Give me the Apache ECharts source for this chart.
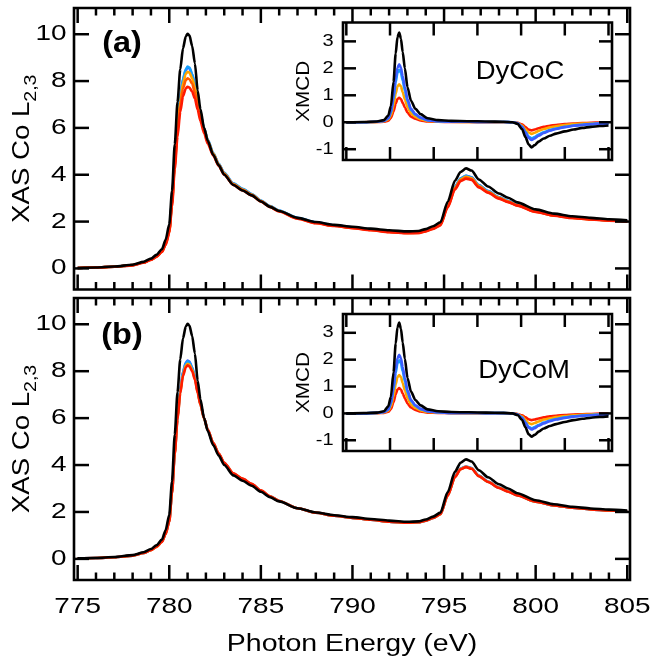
<!DOCTYPE html>
<html>
<head>
<meta charset="utf-8">
<script src="https://cdn.jsdelivr.net/npm/echarts@6/dist/echarts.min.js"></script>
<style>
  html, body { margin: 0; padding: 0; background: #fff; }
  #chart { width: 653px; height: 667px; }
</style>
</head>
<body>
<div id="chart"></div>
<script>
// Photon energy grid (eV) for the Co L2,3 absorption spectra
const energy = [775, 776, 777, 778, 778.6, 779, 779.3, 779.6, 779.8, 780,
  780.15, 780.3, 780.45, 780.6, 780.75, 780.9, 781, 781.1, 781.25, 781.4,
  781.55, 781.7, 781.9, 782.1, 782.4, 782.7, 783, 783.5, 784, 784.5,
  785, 785.5, 786, 787, 788, 789, 790, 791, 792, 793,
  793.6, 794, 794.4, 794.8, 795.2, 795.6, 795.9, 796.2, 796.5, 796.9,
  797.4, 798, 798.5, 799, 800, 801, 802, 803, 804, 805];

// (a) DyCoC — XAS
const xasA_black = [0.02,0.04,0.08,0.16,0.28, 0.42,0.58,0.82,1.22,1.88, 3.3,5.3,7.1,8.5,9.4, 9.9,10.02,9.95,9.5,8.75, 7.6,6.8,6.0,5.45,4.85, 4.4,4.0,3.56,3.33,3.12, 2.86,2.63,2.45,2.16,1.98, 1.86,1.78,1.7,1.63,1.58, 1.6,1.68,1.8,1.97,2.85, 3.75,4.12,4.27,4.18,3.8, 3.5,3.2,3.02,2.82,2.52, 2.34,2.23,2.16,2.1,2.06];
const xasA_blue = [0.02,0.04,0.07,0.14,0.25, 0.38,0.52,0.74,1.08,1.62, 2.85,4.58,6.12,7.3,8.06, 8.46,8.58,8.54,8.27,7.83, 7.18,6.58,5.97,5.48,4.92, 4.46,4.07,3.62,3.39,3.17, 2.89,2.65,2.46,2.15,1.96, 1.84,1.75,1.66,1.58,1.53, 1.55,1.62,1.73,1.9,2.7, 3.5,3.84,3.96,3.89,3.56, 3.3,3.04,2.88,2.72,2.45, 2.28,2.18,2.11,2.06,2.02];
const xasA_sky = [0.02,0.04,0.07,0.14,0.25, 0.38,0.52,0.74,1.08,1.62, 2.85,4.6,6.15,7.35,8.1, 8.5,8.62,8.58,8.3,7.85, 7.2,6.6,5.98,5.5,4.93, 4.47,4.08,3.63,3.4,3.18, 2.9,2.66,2.47,2.16,1.97, 1.84,1.75,1.67,1.59,1.53, 1.55,1.62,1.73,1.9,2.7, 3.5,3.84,3.95,3.88,3.55, 3.3,3.04,2.88,2.72,2.45, 2.28,2.18,2.11,2.06,2.02];
const xasA_orange = [0.02,0.04,0.07,0.14,0.25, 0.37,0.5,0.72,1.05,1.58, 2.8,4.5,6.0,7.15,7.9, 8.3,8.4,8.36,8.12,7.72, 7.12,6.55,5.95,5.46,4.9, 4.44,4.05,3.6,3.37,3.15, 2.88,2.64,2.45,2.14,1.95, 1.83,1.74,1.65,1.57,1.52, 1.53,1.6,1.71,1.88,2.66, 3.45,3.8,3.91,3.85,3.52, 3.27,3.02,2.86,2.7,2.43, 2.27,2.17,2.1,2.05,2.01];
const xasA_orangered = [0.02,0.04,0.07,0.14,0.25, 0.37,0.5,0.71,1.03,1.55, 2.75,4.4,5.85,6.95,7.68, 8.03,8.12,8.08,7.88,7.52, 6.98,6.45,5.88,5.4,4.86, 4.41,4.02,3.58,3.35,3.13, 2.87,2.63,2.44,2.13,1.94, 1.82,1.73,1.64,1.56,1.51, 1.52,1.59,1.7,1.86,2.63, 3.42,3.76,3.87,3.81,3.49, 3.25,3.0,2.84,2.69,2.42, 2.26,2.16,2.09,2.05,2.01];
const xasA_red = [0.02,0.04,0.07,0.13,0.24, 0.36,0.49,0.7,1.0,1.5, 2.65,4.25,5.62,6.68,7.35, 7.68,7.76,7.72,7.55,7.25, 6.78,6.3,5.78,5.33,4.82, 4.38,4.0,3.56,3.33,3.12, 2.86,2.62,2.43,2.12,1.93, 1.81,1.72,1.63,1.55,1.5, 1.51,1.58,1.69,1.84,2.6, 3.38,3.72,3.83,3.78,3.46, 3.23,2.98,2.83,2.68,2.41, 2.25,2.15,2.09,2.04,2.0];

// (b) DyCoM — XAS
const xasB_black = [0.02,0.04,0.08,0.16,0.28, 0.42,0.58,0.82,1.22,1.88, 3.3,5.3,7.1,8.5,9.4, 9.9,10.02,9.95,9.5,8.75, 7.6,6.8,6.0,5.45,4.85, 4.4,4.0,3.56,3.33,3.12, 2.86,2.63,2.45,2.16,1.98, 1.86,1.78,1.7,1.63,1.58, 1.6,1.68,1.8,1.97,2.85, 3.72,4.1,4.24,4.15,3.78, 3.48,3.18,3.0,2.8,2.5, 2.33,2.22,2.15,2.1,2.06];
const xasB_blue = [0.02,0.04,0.07,0.14,0.25, 0.38,0.52,0.74,1.08,1.62, 2.85,4.55,6.05,7.2,7.98, 8.36,8.45,8.41,8.16,7.75, 7.15,6.6,6.0,5.5,4.93, 4.47,4.08,3.63,3.4,3.18, 2.9,2.66,2.47,2.16,1.97, 1.84,1.75,1.67,1.59,1.54, 1.56,1.63,1.74,1.91,2.72, 3.52,3.85,3.94,3.87,3.55, 3.3,3.04,2.88,2.72,2.45, 2.28,2.18,2.11,2.06,2.02];
const xasB_sky = [0.02,0.04,0.07,0.14,0.25, 0.38,0.52,0.74,1.08,1.62, 2.84,4.53,6.02,7.17,7.95, 8.33,8.42,8.38,8.14,7.74, 7.14,6.6,6.0,5.5,4.93, 4.47,4.08,3.63,3.4,3.18, 2.9,2.66,2.47,2.16,1.97, 1.84,1.75,1.67,1.59,1.54, 1.56,1.63,1.74,1.91,2.71, 3.51,3.84,3.93,3.86,3.54, 3.29,3.03,2.87,2.71,2.44, 2.28,2.18,2.11,2.06,2.02];
const xasB_orange = [0.02,0.04,0.07,0.14,0.25, 0.37,0.51,0.73,1.06,1.6, 2.82,4.5,5.97,7.1,7.86, 8.23,8.32,8.28,8.06,7.68, 7.1,6.58,5.99,5.5,4.94, 4.48,4.09,3.64,3.41,3.19, 2.91,2.67,2.47,2.16,1.97, 1.84,1.75,1.67,1.59,1.54, 1.56,1.63,1.74,1.9,2.7, 3.5,3.83,3.92,3.85,3.53, 3.29,3.03,2.87,2.71,2.44, 2.28,2.18,2.11,2.06,2.02];
const xasB_red = [0.02,0.04,0.07,0.14,0.25, 0.37,0.51,0.72,1.05,1.58, 2.8,4.47,5.93,7.05,7.8, 8.16,8.25,8.21,8.0,7.64, 7.08,6.57,5.99,5.51,4.95, 4.49,4.1,3.65,3.42,3.2, 2.92,2.67,2.47,2.16,1.97, 1.84,1.75,1.67,1.59,1.54, 1.56,1.63,1.74,1.9,2.69, 3.49,3.82,3.91,3.84,3.52, 3.28,3.02,2.86,2.7,2.44, 2.28,2.18,2.11,2.06,2.02];

// Energy grid (eV) for the XMCD difference spectra shown in the insets
const energyXmcd = [775, 777, 778.5, 779.3, 779.8, 780.1, 780.4, 780.65, 780.85, 781.05,
  781.25, 781.45, 781.7, 782, 782.4, 782.9, 783.5, 784.3, 785.5, 787,
  789, 791, 793, 794, 794.6, 795.1, 795.5, 795.85, 796.2, 796.55,
  797, 797.6, 798.3, 799, 800, 801, 802, 803, 804, 805];

// DyCoC — XMCD
const xmcdA_black = [0.0,0.01,0.03,0.08,0.25, 0.6,1.5,2.55,3.15,3.33, 3.1,2.6,2.0,1.3,0.8, 0.5,0.3,0.15,0.08,0.05, 0.04,0.03,0.02,0.0,-0.06, -0.25,-0.55,-0.82,-0.93,-0.85, -0.72,-0.6,-0.5,-0.42,-0.34, -0.27,-0.21,-0.17,-0.14,-0.12];
const xmcdA_blue = [0.0,0.0,0.02,0.05,0.15, 0.38,0.95,1.62,2.02,2.15, 2.02,1.7,1.3,0.85,0.5, 0.3,0.17,0.08,0.04,0.02, 0.02,0.01,0.01,0.0,-0.04, -0.17,-0.38,-0.58,-0.66,-0.6, -0.5,-0.4,-0.31,-0.25,-0.18, -0.13,-0.1,-0.07,-0.05,-0.04];
const xmcdA_sky = [0.0,0.0,0.02,0.05,0.14, 0.35,0.87,1.48,1.84,1.95, 1.84,1.55,1.18,0.78,0.46, 0.28,0.16,0.08,0.04,0.02, 0.02,0.01,0.01,0.0,-0.04, -0.16,-0.35,-0.53,-0.6,-0.55, -0.46,-0.37,-0.29,-0.23,-0.17, -0.12,-0.09,-0.07,-0.05,-0.04];
const xmcdA_orange = [0.0,0.0,0.01,0.04,0.1, 0.25,0.62,1.07,1.33,1.41, 1.33,1.12,0.85,0.56,0.33, 0.2,0.11,0.05,0.03,0.02, 0.01,0.01,0.0,0.0,-0.03, -0.12,-0.26,-0.38,-0.43,-0.39, -0.32,-0.25,-0.19,-0.15,-0.1, -0.07,-0.05,-0.04,-0.03,-0.02];
const xmcdA_red = [0.0,0.0,0.01,0.02,0.06, 0.16,0.4,0.69,0.86,0.91, 0.86,0.72,0.55,0.36,0.21, 0.13,0.07,0.03,0.02,0.01, 0.01,0.0,0.0,0.0,-0.02, -0.08,-0.18,-0.27,-0.3,-0.27, -0.22,-0.17,-0.13,-0.1,-0.07, -0.05,-0.03,-0.02,-0.01,-0.01];

// DyCoM — XMCD
const xmcdB_black = [0.0,0.01,0.03,0.08,0.26, 0.62,1.53,2.6,3.2,3.38, 3.15,2.64,2.03,1.32,0.81, 0.5,0.3,0.15,0.08,0.05, 0.04,0.03,0.02,0.0,-0.06, -0.24,-0.52,-0.77,-0.87,-0.8, -0.68,-0.56,-0.47,-0.4,-0.32, -0.25,-0.2,-0.16,-0.13,-0.11];
const xmcdB_blue = [0.0,0.0,0.02,0.05,0.15, 0.39,0.96,1.64,2.05,2.18, 2.05,1.72,1.32,0.86,0.5, 0.3,0.17,0.08,0.04,0.02, 0.02,0.01,0.01,0.0,-0.04, -0.16,-0.35,-0.53,-0.6,-0.55, -0.46,-0.37,-0.29,-0.23,-0.17, -0.12,-0.09,-0.07,-0.05,-0.04];
const xmcdB_sky = [0.0,0.0,0.02,0.05,0.14, 0.36,0.88,1.51,1.87,1.98, 1.87,1.57,1.2,0.79,0.47, 0.28,0.16,0.08,0.04,0.02, 0.02,0.01,0.01,0.0,-0.04, -0.15,-0.33,-0.5,-0.56,-0.51, -0.43,-0.34,-0.27,-0.21,-0.15, -0.11,-0.08,-0.06,-0.05,-0.04];
const xmcdB_orange = [0.0,0.0,0.01,0.04,0.1, 0.25,0.63,1.08,1.35,1.43, 1.35,1.13,0.86,0.57,0.33, 0.2,0.11,0.05,0.03,0.02, 0.01,0.01,0.0,0.0,-0.03, -0.11,-0.24,-0.36,-0.4,-0.36, -0.3,-0.23,-0.18,-0.14,-0.1, -0.07,-0.05,-0.04,-0.03,-0.02];
const xmcdB_red = [0.0,0.0,0.01,0.02,0.06, 0.16,0.41,0.71,0.89,0.94, 0.89,0.74,0.56,0.37,0.22, 0.13,0.07,0.03,0.02,0.01, 0.01,0.0,0.0,0.0,-0.02, -0.07,-0.15,-0.22,-0.25,-0.23, -0.19,-0.15,-0.11,-0.09,-0.06, -0.04,-0.03,-0.02,-0.01,-0.01];

// Tick positions and labels
const xMajorTicks = [775, 780, 785, 790, 795, 800, 805];
const xMinorTicks = [776, 777, 778, 779, 781, 782, 783, 784, 786, 787, 788, 789,
  791, 792, 793, 794, 796, 797, 798, 799, 801, 802, 803, 804];
const yMainTicks = [0, 2, 4, 6, 8, 10];
const yInsetTicks = [-1, 0, 1, 2, 3];

const COLORS = { black: '#000000', blue: '#3d5cff', sky: '#14a0ff', orange: '#ffa500', orangered: '#ff5a00', red: '#ff1a00' };
const FONT = "'Liberation Sans', Arial, Helvetica, sans-serif";

// Axis extents (the frame sits slightly outside the outermost ticks)
const X_MIN = 774.8, X_MAX = 805.15;
const Y_MIN = -0.9, Y_MAX = 11.12;
const XI_MIN = 774.62, XI_MAX = 805.4;
const YI_MIN = -1.4, YI_MAX = 3.7;

function pairs(xs, ys) { return xs.map((x, i) => [x, ys[i]]); }

function hiddenAxis(grid, min, max) {
  return {
    type: 'value', gridIndex: grid, min: min, max: max,
    axisLine: { show: false }, axisTick: { show: false },
    axisLabel: { show: false }, splitLine: { show: false }
  };
}
function line(name, xi, yi, xs, ys, color, z) {
  return {
    name: name, type: 'line', xAxisIndex: xi, yAxisIndex: yi, data: pairs(xs, ys),
    showSymbol: false, smooth: 0.25, smoothMonotone: 'x', z: z,
    lineStyle: { color: color, width: 2.6 }, silent: true, animation: false
  };
}
const frame = { show: true, borderColor: '#000', borderWidth: 2.6 };

const option = {
  animation: false,
  backgroundColor: '#fff',
  grid: [
    Object.assign({ left: 74, top: 8, width: 556, height: 281.5, backgroundColor: 'transparent', z: 0 }, frame),
    Object.assign({ left: 74, top: 298, width: 556, height: 282, backgroundColor: 'transparent', z: 0 }, frame),
    Object.assign({ left: 343, top: 22.5, width: 269, height: 137.5, backgroundColor: '#fff', z: 3 }, frame),
    Object.assign({ left: 343, top: 314, width: 269, height: 137, backgroundColor: '#fff', z: 3 }, frame)
  ],
  xAxis: [
    hiddenAxis(0, X_MIN, X_MAX), hiddenAxis(1, X_MIN, X_MAX),
    hiddenAxis(2, XI_MIN, XI_MAX), hiddenAxis(3, XI_MIN, XI_MAX)
  ],
  yAxis: [
    hiddenAxis(0, Y_MIN, Y_MAX), hiddenAxis(1, Y_MIN, Y_MAX),
    hiddenAxis(2, YI_MIN, YI_MAX), hiddenAxis(3, YI_MIN, YI_MAX)
  ],
  series: [
    line('a-blue', 0, 0, energy, xasA_blue, COLORS.blue, 2),
    line('a-sky', 0, 0, energy, xasA_sky, COLORS.sky, 2),
    line('a-orange', 0, 0, energy, xasA_orange, COLORS.orange, 2),
    line('a-orangered', 0, 0, energy, xasA_orangered, COLORS.orangered, 2),
    line('a-red', 0, 0, energy, xasA_red, COLORS.red, 2),
    line('a-black', 0, 0, energy, xasA_black, COLORS.black, 2),
    line('b-blue', 1, 1, energy, xasB_blue, COLORS.blue, 2),
    line('b-sky', 1, 1, energy, xasB_sky, COLORS.sky, 2),
    line('b-orange', 1, 1, energy, xasB_orange, COLORS.orange, 2),
    line('b-red', 1, 1, energy, xasB_red, COLORS.red, 2),
    line('b-black', 1, 1, energy, xasB_black, COLORS.black, 2),
    line('ia-red', 2, 2, energyXmcd, xmcdA_red, COLORS.red, 5),
    line('ia-orange', 2, 2, energyXmcd, xmcdA_orange, COLORS.orange, 5),
    line('ia-sky', 2, 2, energyXmcd, xmcdA_sky, COLORS.sky, 5),
    line('ia-blue', 2, 2, energyXmcd, xmcdA_blue, COLORS.blue, 5),
    line('ia-black', 2, 2, energyXmcd, xmcdA_black, COLORS.black, 5),
    line('ib-red', 3, 3, energyXmcd, xmcdB_red, COLORS.red, 5),
    line('ib-orange', 3, 3, energyXmcd, xmcdB_orange, COLORS.orange, 5),
    line('ib-sky', 3, 3, energyXmcd, xmcdB_sky, COLORS.sky, 5),
    line('ib-blue', 3, 3, energyXmcd, xmcdB_blue, COLORS.blue, 5),
    line('ib-black', 3, 3, energyXmcd, xmcdB_black, COLORS.black, 5)
  ]
};

const chart = echarts.init(document.getElementById('chart'), null, { renderer: 'canvas' });
chart.setOption(option);

// ---- ticks, tick labels and titles, placed through each panel's own scales ----
const elements = [];
function toPx(idx, x, y) { return chart.convertToPixel({ xAxisIndex: idx, yAxisIndex: idx }, [x, y]); }
function tick(x1, y1, x2, y2, z) {
  elements.push({ type: 'line', silent: true, z: z,
    shape: { x1: x1, y1: y1, x2: x2, y2: y2 },
    style: { stroke: '#000', lineWidth: 2.5 } });
}
function text(str, x, y, o) {
  elements.push({ type: 'text', silent: true, z: 20, x: x, y: y,
    scaleX: o.sx || 1, rotation: o.rot || 0,
    style: { text: str, font: o.font, fill: '#000', rich: o.rich,
      align: o.align || 'center', verticalAlign: o.va || 'middle',
      textAlign: o.align || 'center', textVerticalAlign: o.va || 'middle' } });
}

const panels = [
  { idx: 0, x0: X_MIN, x1: X_MAX, y0: Y_MIN, y1: Y_MAX, yTicks: yMainTicks, minor: true,
    xLen: 15, minorLen: 7.5, yLen: 15, xLabels: false, yFont: '22px ' + FONT, ySx: 1.27, yGap: 7.5, z: 12 },
  { idx: 1, x0: X_MIN, x1: X_MAX, y0: Y_MIN, y1: Y_MAX, yTicks: yMainTicks, minor: true,
    xLen: 15, minorLen: 7.5, yLen: 15, xLabels: true, yFont: '22px ' + FONT, ySx: 1.27, yGap: 7.5, z: 12 },
  { idx: 2, x0: XI_MIN, x1: XI_MAX, y0: YI_MIN, y1: YI_MAX, yTicks: yInsetTicks, minor: false,
    xLen: 13, minorLen: 0, yLen: 13, xLabels: false, yFont: '16px ' + FONT, ySx: 1.25, yGap: 9.5, z: 14 },
  { idx: 3, x0: XI_MIN, x1: XI_MAX, y0: YI_MIN, y1: YI_MAX, yTicks: yInsetTicks, minor: false,
    xLen: 13, minorLen: 0, yLen: 13, xLabels: false, yFont: '16px ' + FONT, ySx: 1.25, yGap: 9.5, z: 14 }
];

panels.forEach(function (p) {
  const left = toPx(p.idx, p.x0, 0)[0];
  const right = toPx(p.idx, p.x1, 0)[0];
  const top = toPx(p.idx, p.x0, p.y1)[1];
  const bottom = toPx(p.idx, p.x0, p.y0)[1];
  xMajorTicks.forEach(function (v) {
    const x = toPx(p.idx, v, 0)[0];
    tick(x, bottom, x, bottom - p.xLen, p.z);
    tick(x, top, x, top + p.xLen, p.z);
    if (p.xLabels) {
      text(String(v), x, bottom + 26.5, { font: '22px ' + FONT, sx: 1.27 });
    }
  });
  if (p.minor) {
    xMinorTicks.forEach(function (v) {
      const x = toPx(p.idx, v, 0)[0];
      tick(x, bottom, x, bottom - p.minorLen, p.z);
      tick(x, top, x, top + p.minorLen, p.z);
    });
  }
  p.yTicks.forEach(function (v) {
    const y = toPx(p.idx, p.x0, v)[1];
    tick(left, y, left + p.yLen, y, p.z);
    tick(right, y, right - p.yLen, y, p.z);
    text(String(v), left - p.yGap, y, { font: p.yFont, sx: p.ySx, align: 'right' });
  });
});

// Axis titles
const xasRich = {
  m: { font: '24px ' + FONT, fill: '#000', padding: [0, 0, 5, 0], verticalAlign: 'bottom' },
  s: { font: '17px ' + FONT, fill: '#000', verticalAlign: 'bottom' }
};
[0, 1].forEach(function (idx) {
  const yMid = (toPx(idx, X_MIN, Y_MIN)[1] + toPx(idx, X_MIN, Y_MAX)[1]) / 2;
  text('{m|XAS Co L}{s|2,3}', 25, yMid, { rot: Math.PI / 2, sx: 1.15, rich: xasRich, font: '24px ' + FONT });
});
[2, 3].forEach(function (idx) {
  const yMid = (toPx(idx, XI_MIN, YI_MIN)[1] + toPx(idx, XI_MIN, YI_MAX)[1]) / 2;
  text('XMCD', 304, yMid, { rot: Math.PI / 2, sx: 1.15, font: '18px ' + FONT });
});
const xMid = (toPx(1, X_MIN, 0)[0] + toPx(1, X_MAX, 0)[0]) / 2;
text('Photon Energy (eV)', xMid, 645, { font: '23px ' + FONT, sx: 1.24 });

// Panel tags and sample names
text('(a)', 122, 44, { font: 'bold 30px ' + FONT, sx: 1.08 });
text('(b)', 122, 336, { font: 'bold 30px ' + FONT, sx: 1.08 });
text('DyCoC', 520, 72, { font: '25px ' + FONT, sx: 1.1 });
text('DyCoM', 524, 371, { font: '25px ' + FONT, sx: 1.1 });

chart.setOption({ graphic: { elements: elements } });
</script>
</body>
</html>
